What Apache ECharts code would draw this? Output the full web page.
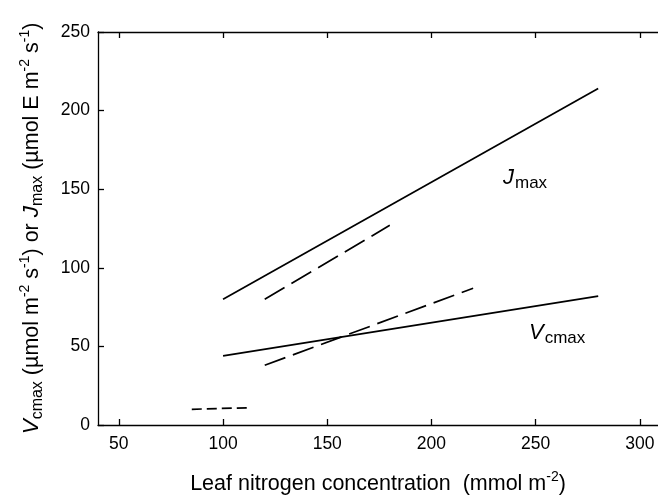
<!DOCTYPE html>
<html><head><meta charset="utf-8">
<script src="https://cdn.jsdelivr.net/npm/echarts@6/dist/echarts.min.js"></script>
<style>html,body{margin:0;padding:0;background:#fff}#c{width:658px;height:497px}</style>
</head><body><div id="c"></div>
<script>
// Data
const xTicks = [50, 100, 150, 200, 250, 300];
const yTicks = [0, 50, 100, 150, 200, 250];
const jmaxSolid = [[100, 80], [280, 214]];
const vcmaxSolid = [[100, 44], [280, 82]];
const jmaxDashed = [[120, 80], [180, 127]];
const vcmaxDashed = [[120, 38], [220, 87]];
const lowDashed = [[85, 10], [113, 11]];

const FONT = '"Liberation Sans", Arial, Helvetica, sans-serif';
const chart = echarts.init(document.getElementById('c'), null, {renderer: 'canvas'});

const richBase = {
  n: {fontSize: 21.5, fontFamily: FONT, color: '#000', lineHeight: 30, verticalAlign: 'middle'},
  i: {fontSize: 22.5, fontFamily: FONT, fontStyle: 'italic', color: '#000', lineHeight: 30, verticalAlign: 'middle'},
  sub: {fontSize: 16, fontFamily: FONT, color: '#000', lineHeight: 30, verticalAlign: 'bottom', padding: [0, 0, 1, 0]},
  sup: {fontSize: 14, fontFamily: FONT, color: '#000', lineHeight: 30, verticalAlign: 'top', padding: [1, 0, 0, 0]}
};

function lineSeries(data, dash) {
  return {
    type: 'line', data: data, symbol: 'none', silent: true,
    lineStyle: {color: '#000', width: 1.7, type: dash || 'solid'}
  };
}

const axisCommon = {
  axisLine: {show: true, lineStyle: {color: '#000', width: 1.3}},
  splitLine: {show: false}
};

chart.setOption({
  animation: false,
  backgroundColor: '#fff',
  grid: {left: 98, right: 0, top: 32, bottom: 72, containLabel: false, outerBoundsMode: 'none'},
  xAxis: [
    Object.assign({
      type: 'value', min: 40, max: 308.7, position: 'bottom',
      axisTick: {show: true, inside: true, length: 6, customValues: xTicks, lineStyle: {color: '#000', width: 1.3}},
      axisLabel: {show: true, customValues: xTicks, fontSize: 17.5, fontFamily: FONT, color: '#000', margin: 10},
      name: '{n|Leaf nitrogen concentration  (mmol m}{sup|-2}{n|)}',
      nameLocation: 'middle', nameGap: 44,
      nameTextStyle: {rich: richBase, verticalAlign: 'top'}
    }, axisCommon),
    Object.assign({
      type: 'value', min: 40, max: 308.7, position: 'top',
      axisTick: {show: true, inside: true, length: 6, customValues: xTicks, lineStyle: {color: '#000', width: 1.3}},
      axisLabel: {show: false}
    }, axisCommon)
  ],
  yAxis: [
    Object.assign({
      type: 'value', min: 0, max: 250, interval: 50, position: 'left',
      axisTick: {show: true, inside: true, length: 6, lineStyle: {color: '#000', width: 1.3}},
      axisLabel: {show: true, fontSize: 17.5, fontFamily: FONT, color: '#000', margin: 8},
      name: '{i|V}{sub|cmax}{n| (µmol m}{sup|-2}{n| s}{sup|-1}{n|) or }{i|J}{sub|max}{n| (µmol E m}{sup|-2}{n| s}{sup|-1}{n|)}',
      nameLocation: 'middle', nameRotate: 90, nameGap: 51,
      nameTextStyle: {rich: richBase}
    }, axisCommon)
  ],
  series: [
    lineSeries(jmaxSolid),
    lineSeries(vcmaxSolid),
    lineSeries(jmaxDashed, [23, 8]),
    lineSeries(vcmaxDashed, [22, 8]),
    lineSeries(lowDashed, [10, 5])
  ],
  graphic: [
    {type: 'text', left: 503, top: 167, silent: true,
      style: {text: '{i|J}{sub|max}', rich: {
        i: {fontSize: 22, fontFamily: FONT, fontStyle: 'italic', fill: '#000', lineHeight: 28, verticalAlign: 'middle'},
        sub: {fontSize: 17, fontFamily: FONT, fill: '#000', lineHeight: 28, verticalAlign: 'bottom', padding: [0, 0, 0, 1]}
      }}},
    {type: 'text', left: 529, top: 322, silent: true,
      style: {text: '{i|V}{sub|cmax}', rich: {
        i: {fontSize: 22, fontFamily: FONT, fontStyle: 'italic', fill: '#000', lineHeight: 28, verticalAlign: 'middle'},
        sub: {fontSize: 17, fontFamily: FONT, fill: '#000', lineHeight: 28, verticalAlign: 'bottom', padding: [0, 0, 0, 1]}
      }}}
  ]
});
</script></body></html>
